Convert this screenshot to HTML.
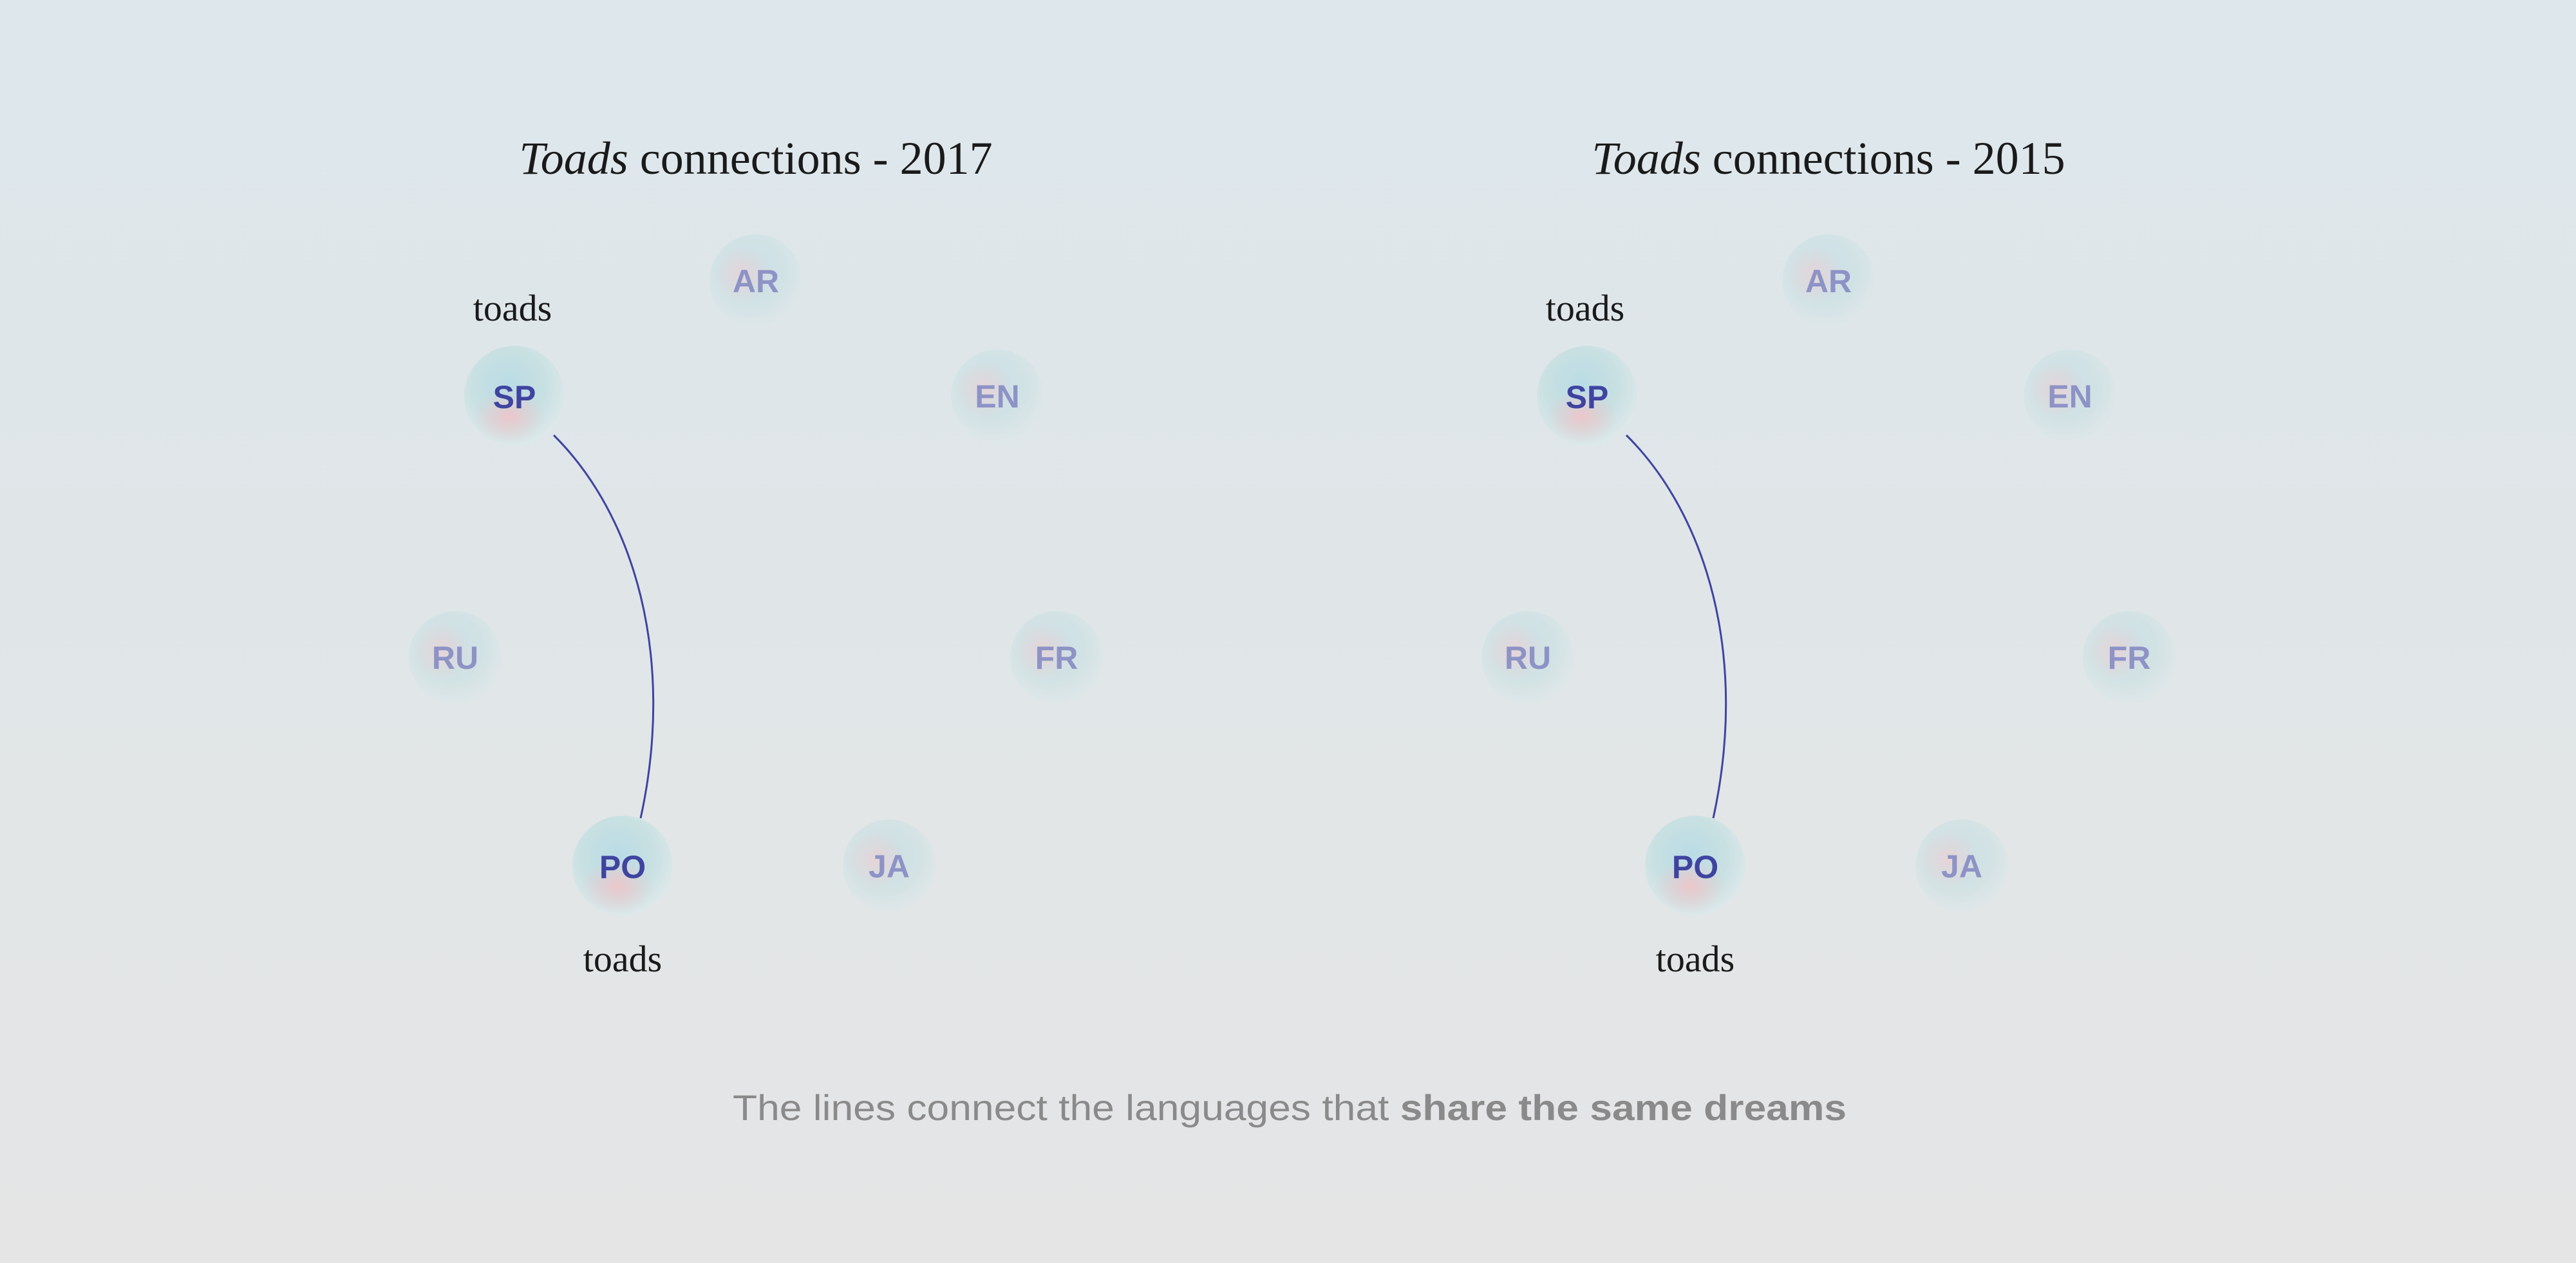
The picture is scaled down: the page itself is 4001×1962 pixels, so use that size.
<!DOCTYPE html>
<html><head><meta charset="utf-8"><style>
html,body{margin:0;padding:0}
body{width:4001px;height:1962px;overflow:hidden;background:linear-gradient(#dde7ec 0%,#e0e6e8 45%,#e5e5e5 100%)}
svg{display:block}
</style></head><body>
<svg width="4001" height="1962" viewBox="0 0 4001 1962" xmlns="http://www.w3.org/2000/svg">
<defs>
<radialGradient id="b" cx="0.45" cy="0.4" r="0.6">
<stop offset="0" stop-color="#b9dce6"/><stop offset="0.6" stop-color="#c8e0e2"/><stop offset="1" stop-color="#dde8ea"/>
</radialGradient>
<radialGradient id="p" cx="0.5" cy="0.5" r="0.5">
<stop offset="0" stop-color="#f0c4c8" stop-opacity="0.9"/><stop offset="1" stop-color="#f0c4c8" stop-opacity="0"/>
</radialGradient>
<g id="node">
<circle r="78" fill="url(#b)"/>
<ellipse cx="-8" cy="32" rx="55" ry="42" fill="url(#p)"/>
</g>
<g id="fnode" opacity="0.55">
<circle r="72" fill="url(#b)"/>
<ellipse cx="-20" cy="-10" rx="45" ry="45" fill="url(#p)"/>
</g>
<g id="panel">
<path d="M860,676 C985,800 1050,1020 995,1271" fill="none" stroke="#3f44a0" stroke-width="3"/>
<g font-family="Liberation Sans, sans-serif" font-weight="bold" font-size="50" text-anchor="middle">
<use href="#fnode" x="1174" y="436"/><text x="1174" y="454" fill="#8e93c6">AR</text>
<use href="#fnode" x="1549" y="615"/><text x="1549" y="633" fill="#8e93c6">EN</text>
<use href="#fnode" x="707" y="1021"/><text x="707" y="1039" fill="#8e93c6">RU</text>
<use href="#fnode" x="1641" y="1021"/><text x="1641" y="1039" fill="#8e93c6">FR</text>
<use href="#fnode" x="1381" y="1345"/><text x="1381" y="1363" fill="#8e93c6">JA</text>
<use href="#node" x="799" y="615"/><text x="799" y="634" fill="#3f44a0">SP</text>
<use href="#node" x="967" y="1345"/><text x="967" y="1364" fill="#3f44a0">PO</text>
</g>
<g font-family="Liberation Serif, serif" font-size="58" fill="#1a1a1a" text-anchor="middle">
<text x="796" y="498">toads</text><text x="967" y="1509">toads</text>
</g>
</g>
</defs>
<text x="1174" y="270" text-anchor="middle" font-family="Liberation Serif, serif" font-size="72" fill="#1a1a1a"><tspan font-style="italic">Toads</tspan> connections - 2017</text>
<use href="#panel"/>
<text x="2840" y="270" text-anchor="middle" font-family="Liberation Serif, serif" font-size="72" fill="#1a1a1a"><tspan font-style="italic">Toads</tspan> connections - 2015</text>
<use href="#panel" x="1666" y="0"/>
<text x="1138" y="1740" textLength="1730" lengthAdjust="spacingAndGlyphs" font-family="Liberation Sans, sans-serif" font-size="56" fill="#8a8a8a">The lines connect the languages that <tspan font-weight="bold">share the same dreams</tspan></text>
</svg>
</body></html>
